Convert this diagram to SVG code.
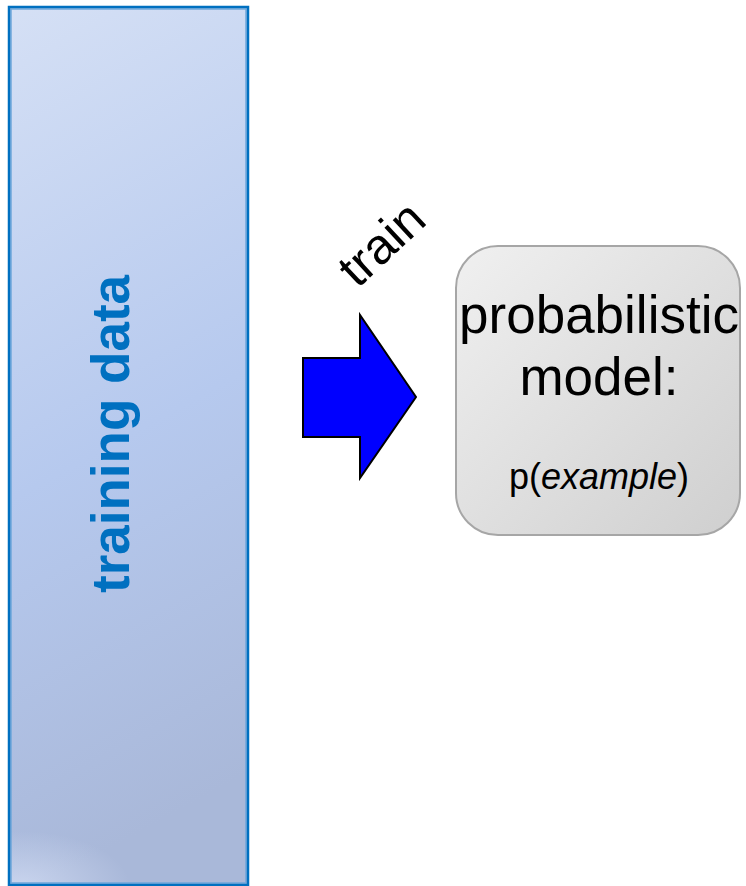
<svg xmlns="http://www.w3.org/2000/svg" width="746" height="886" viewBox="0 0 746 886">
  <defs>
    <linearGradient id="dataFill" x1="0" y1="0" x2="0.15" y2="1">
      <stop offset="0" stop-color="#D5E0F5"/>
      <stop offset="0.55" stop-color="#B6C9EE"/>
      <stop offset="1" stop-color="#A9B8D9"/>
    </linearGradient>
    <radialGradient id="dataGlow" cx="20" cy="886" r="110" gradientUnits="userSpaceOnUse" gradientTransform="translate(20,886) scale(1,0.5) translate(-20,-886)">
      <stop offset="0" stop-color="#D6E0F6" stop-opacity="0.7"/>
      <stop offset="1" stop-color="#D6E0F6" stop-opacity="0"/>
    </radialGradient>
    <linearGradient id="modelFill" x1="0" y1="0" x2="1" y2="1">
      <stop offset="0" stop-color="#F0F0F0"/>
      <stop offset="1" stop-color="#CFCFCF"/>
    </linearGradient>
  </defs>
  <style>
    .sans { font-family: "Liberation Sans", Arial, sans-serif; }
    .dataLabel { font-size: 53px; font-weight: bold; fill: #0070C0; }
    .modelText { font-size: 53px; fill: #000000; }
    .modelSub { font-size: 36px; fill: #000000; }
    .edgeLabel { font-size: 50px; fill: #000000; }
  </style>

  <!-- training data column -->
  <g id="training-data">
    <rect x="9" y="7" width="239" height="878" fill="url(#dataFill)"/>
    <rect x="9" y="7" width="239" height="878" fill="url(#dataGlow)"/>
    <rect x="11" y="9" width="235" height="874" fill="none" stroke="#6FA6DA" stroke-width="1.5"/>
    <rect x="9" y="7" width="239" height="878" fill="none" stroke="#0070C0" stroke-width="2.5"/>
    <text class="sans dataLabel" transform="translate(129,434) rotate(-90)" text-anchor="middle">training data</text>
  </g>

  <!-- probabilistic model node -->
  <g id="probabilistic-model">
    <rect x="456" y="246" width="284" height="289" rx="42" ry="42" fill="url(#modelFill)" stroke="#A6A6A6" stroke-width="2"/>
    <text class="sans modelText" x="599" y="333" text-anchor="middle">probabilistic</text>
    <text class="sans modelText" x="599" y="395" text-anchor="middle">model:</text>
    <text class="sans modelSub" x="599" y="489" text-anchor="middle">p(<tspan font-style="italic">example</tspan>)</text>
  </g>

  <!-- connector: block arrow labelled "train" -->
  <g id="connectors">
    <polygon points="303,358 360,358 360,315 416,397 360,478 360,437 303,437" fill="#0000FF" stroke="#000000" stroke-width="2" stroke-linejoin="miter"/>
    <text class="sans edgeLabel" transform="translate(393,256) rotate(-43)" text-anchor="middle">train</text>
  </g>
</svg>
